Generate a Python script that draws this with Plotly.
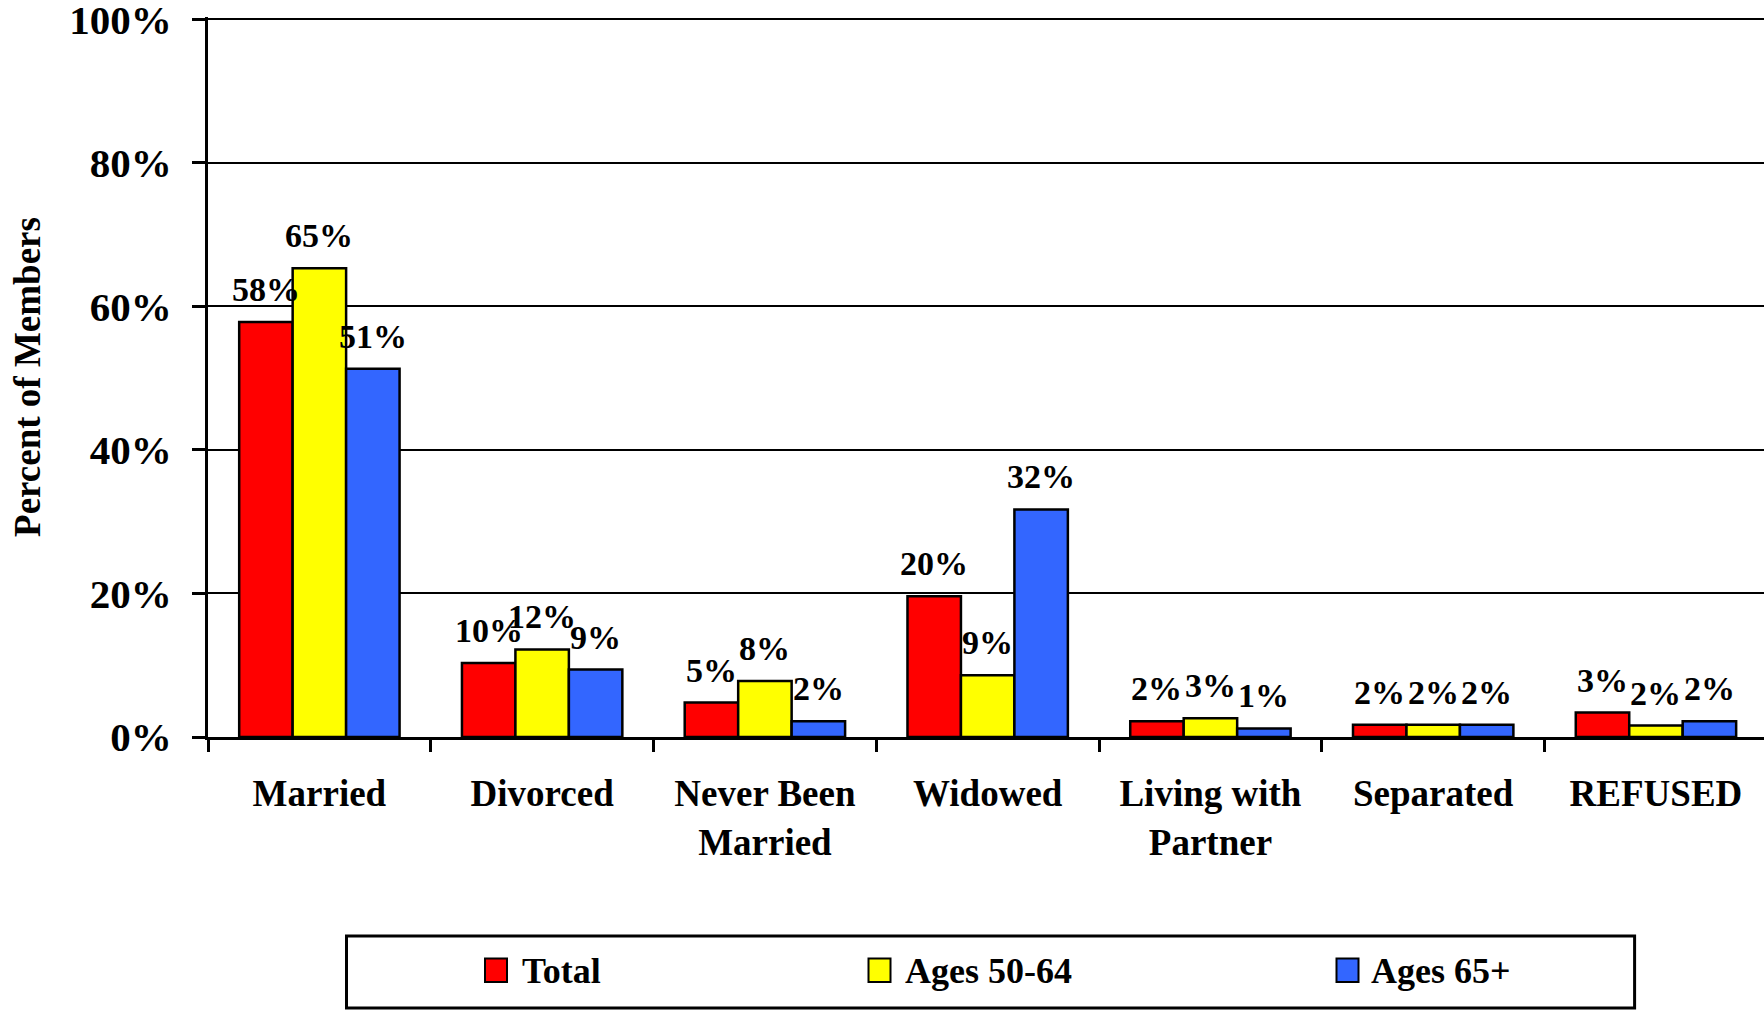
import plotly.graph_objects as go

# ---- data -------------------------------------------------------------
categories = ["Married", "Divorced", "Never Been<br>Married", "Widowed",
              "Living with<br>Partner", "Separated", "REFUSED"]
series_names = ["Total", "Ages 50-64", "Ages 65+"]
total = [57.8, 10.3, 4.8, 19.6, 2.2, 1.7, 3.4]
ages_50_64 = [65.3, 12.2, 7.8, 8.6, 2.6, 1.7, 1.6]
ages_65_plus = [51.3, 9.4, 2.2, 31.7, 1.2, 1.7, 2.2]
y_ticks = [0, 20, 40, 60, 80, 100]
y_tick_labels = ["0%", "20%", "40%", "60%", "80%", "100%"]

# ---- styling / geometry -------------------------------------------------
colors = ["#FF0000", "#FFFF00", "#3366FF"]
FONT = "Liberation Serif, Times New Roman, serif"
W, H = 1764, 1013
M_L, M_R, M_T, M_B = 208, 0, 17, 276
X_RANGE = [-0.5, 6.485]
Y_RANGE = [0, 100.3]
BARGAP = 0.28

plot_w = W - M_L - M_R
plot_h = H - M_T - M_B
cat_px = plot_w / (X_RANGE[1] - X_RANGE[0])
bar_px = cat_px * (1 - BARGAP) / len(series_names)


def paper_x(px):
    return (px - M_L) / plot_w


def paper_y(py):
    return (H - M_B - py) / plot_h


fig = go.Figure()
all_series = [total, ages_50_64, ages_65_plus]
for name, vals, col in zip(series_names, all_series, colors):
    fig.add_trace(go.Bar(
        name=name, x=categories, y=vals,
        marker=dict(color=col, line=dict(color="black", width=2.5)),
        showlegend=False,
    ))

# value labels above each bar
annotations = []
for i, vals in enumerate(all_series):
    for cat, v in zip(categories, vals):
        annotations.append(dict(
            x=cat, y=v, xref="x", yref="y",
            text=f"{v:.0f}%", showarrow=False,
            xanchor="center", yanchor="bottom",
            xshift=(i - 1) * bar_px, yshift=12,
            font=dict(family=FONT, size=34, color="black", weight="bold"),
        ))

# legend box drawn below the chart
shapes = [dict(
    type="rect", xref="paper", yref="paper",
    x0=paper_x(346.5), x1=paper_x(1634.6), y0=paper_y(1008), y1=paper_y(936),
    line=dict(color="black", width=3), fillcolor="white", layer="above",
)]
legend_swatch_x = [485, 868.5, 1336.5]
legend_text_x = [519.75, 903.4, 1369]
for name, col, sx, tx in zip(series_names, colors, legend_swatch_x, legend_text_x):
    shapes.append(dict(
        type="rect", xref="paper", yref="paper",
        x0=paper_x(sx), x1=paper_x(sx + 22), y0=paper_y(982), y1=paper_y(958.5),
        line=dict(color="black", width=2), fillcolor=col, layer="above",
    ))
    annotations.append(dict(
        x=paper_x(tx), y=paper_y(971), xref="paper", yref="paper",
        text=name, showarrow=False, xanchor="left", yanchor="middle",
        font=dict(family=FONT, size=36, color="black", weight="bold"),
    ))

fig.update_layout(
    width=W, height=H,
    margin=dict(l=M_L, r=M_R, t=M_T, b=M_B, autoexpand=False),
    paper_bgcolor="white", plot_bgcolor="white",
    barmode="group", bargap=BARGAP, bargroupgap=0,
    showlegend=False,
    annotations=annotations, shapes=shapes,
    font=dict(family=FONT, color="black"),
)
fig.update_xaxes(
    range=X_RANGE, showline=True, linecolor="black", linewidth=3,
    ticks="outside", tickson="boundaries", ticklen=12, tickwidth=2.5,
    tickcolor="black", showgrid=False, automargin=False,
    ticklabelstandoff=22,
    tickfont=dict(family=FONT, size=37, color="black", weight="bold"),
)
fig.update_yaxes(
    range=Y_RANGE, tickmode="array", tickvals=y_ticks, ticktext=y_tick_labels,
    showline=True, linecolor="black", linewidth=3,
    ticks="outside", ticklen=13, tickwidth=2.5, tickcolor="black",
    showgrid=True, gridcolor="black", gridwidth=2, zeroline=False,
    automargin=False, ticklabelstandoff=12, ticklabeloverflow="allow",
    tickfont=dict(family=FONT, size=41, color="black", weight="bold"),
    title=dict(text="Percent of Members", standoff=18,
               font=dict(family=FONT, size=37, color="black", weight="bold")),
)

fig.write_html("out.html")
